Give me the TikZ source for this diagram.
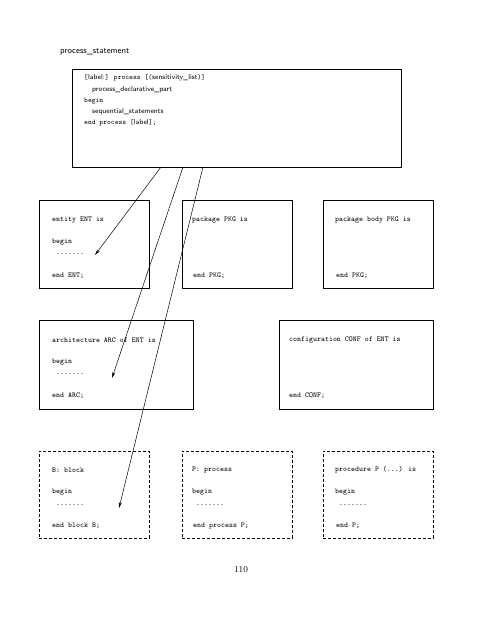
\documentclass[tikz,border=0pt]{standalone}
\usetikzlibrary{arrows.meta}
\begin{document}
\begin{tikzpicture}[x=1pt,y=-1pt,
  box/.style={draw,line width=0.9pt,inner sep=0pt,anchor=north west},
  dbox/.style={box,dashed,dash pattern=on 3pt off 2pt},
  code/.style={anchor=west,inner sep=0pt,font=\fontsize{7.5}{9}\selectfont\ttfamily},
  mixed/.style={anchor=west,inner sep=0pt,font=\fontsize{7.2}{8}\selectfont},
  link/.style={line width=0.5pt,-{Stealth[length=6pt,width=3pt]}}]
\useasboundingbox (0,0) rectangle (495,640);
% title
\node[anchor=west,inner sep=0pt,font=\fontsize{8.6}{10}\selectfont\sffamily] (title) at (60,52) {process\_statement};
% top box
\node[box,minimum width=329pt,minimum height=98pt] (top) at (72,69) {};
\node[mixed] (t1) at (84,78) {\ttfamily [\sffamily label:\ttfamily] process [(\sffamily sensitivity\_list\ttfamily)]};
\node[mixed] (t2) at (92,89.5) {\sffamily process\_declarative\_part};
\node[mixed] (t3) at (84,101) {\ttfamily begin};
\node[mixed] (t4) at (92,112) {\sffamily sequential\_statements};
\node[mixed] (t5) at (84,123) {\ttfamily end process [\sffamily label\ttfamily];};
% row 1
\node[box,minimum width=110pt,minimum height=88pt] (ent) at (39,200) {};
\node[code] (ent1) at (52,220) {entity ENT is};
\node[code] (ent2) at (52,242) {begin};
\node[code] (ent3) at (56,254) {.......};
\node[code] (ent4) at (52,276) {end ENT;};
\node[box,minimum width=110pt,minimum height=88pt] (pkg) at (182,200) {};
\node[code] (pkg1) at (192,220) {package PKG is};
\node[code] (pkg2) at (193,276) {end PKG;};
\node[box,minimum width=110pt,minimum height=88pt] (pkb) at (323,200) {};
\node[code] (pkb1) at (335,220) {package body PKG is};
\node[code] (pkb2) at (336,276) {end PKG;};
% row 2
\node[box,minimum width=154pt,minimum height=89pt] (arc) at (39,320) {};
\node[code] (arc1) at (52,340) {architecture ARC of ENT is};
\node[code] (arc2) at (52,362) {begin};
\node[code] (arc3) at (56,374) {.......};
\node[code] (arc4) at (52,396) {end ARC;};
\node[box,minimum width=154pt,minimum height=89pt] (conf) at (279,320) {};
\node[code] (conf1) at (289,340) {configuration CONF of ENT is};
\node[code] (conf2) at (289,396) {end CONF;};
% row 3
\node[dbox,minimum width=110pt,minimum height=87pt] (blk) at (39,451) {};
\node[code] (blk1) at (52,470) {B: block};
\node[code] (blk2) at (52,492) {begin};
\node[code] (blk3) at (56,505) {.......};
\node[code] (blk4) at (52,526) {end block B;};
\node[dbox,minimum width=110pt,minimum height=87pt] (prc) at (182,451) {};
\node[code] (prc1) at (192,470) {P: process};
\node[code] (prc2) at (192,492) {begin};
\node[code] (prc3) at (196,505) {.......};
\node[code] (prc4) at (193,526) {end process P;};
\node[dbox,minimum width=110pt,minimum height=87pt] (prd) at (323,451) {};
\node[code] (prd1) at (335,470) {procedure P (...) is};
\node[code] (prd2) at (335,492) {begin};
\node[code] (prd3) at (339,505) {.......};
\node[code] (prd4) at (336,526) {end P;};
% page number
\node[inner sep=0pt,font=\fontsize{9}{11}\selectfont] (page) at (241,570) {110};
% connectors
\coordinate (s1) at (161,167);
\coordinate (s2) at (183,167);
\coordinate (s3) at (203,167);
\coordinate (e1) at (95,255);
\coordinate (e2) at (112,378);
\coordinate (e3) at (119,508);
\draw[link] (s1) -- (e1);
\draw[link] (s2) -- (e2);
\draw[link] (s3) -- (e3);
\end{tikzpicture}
\end{document}
